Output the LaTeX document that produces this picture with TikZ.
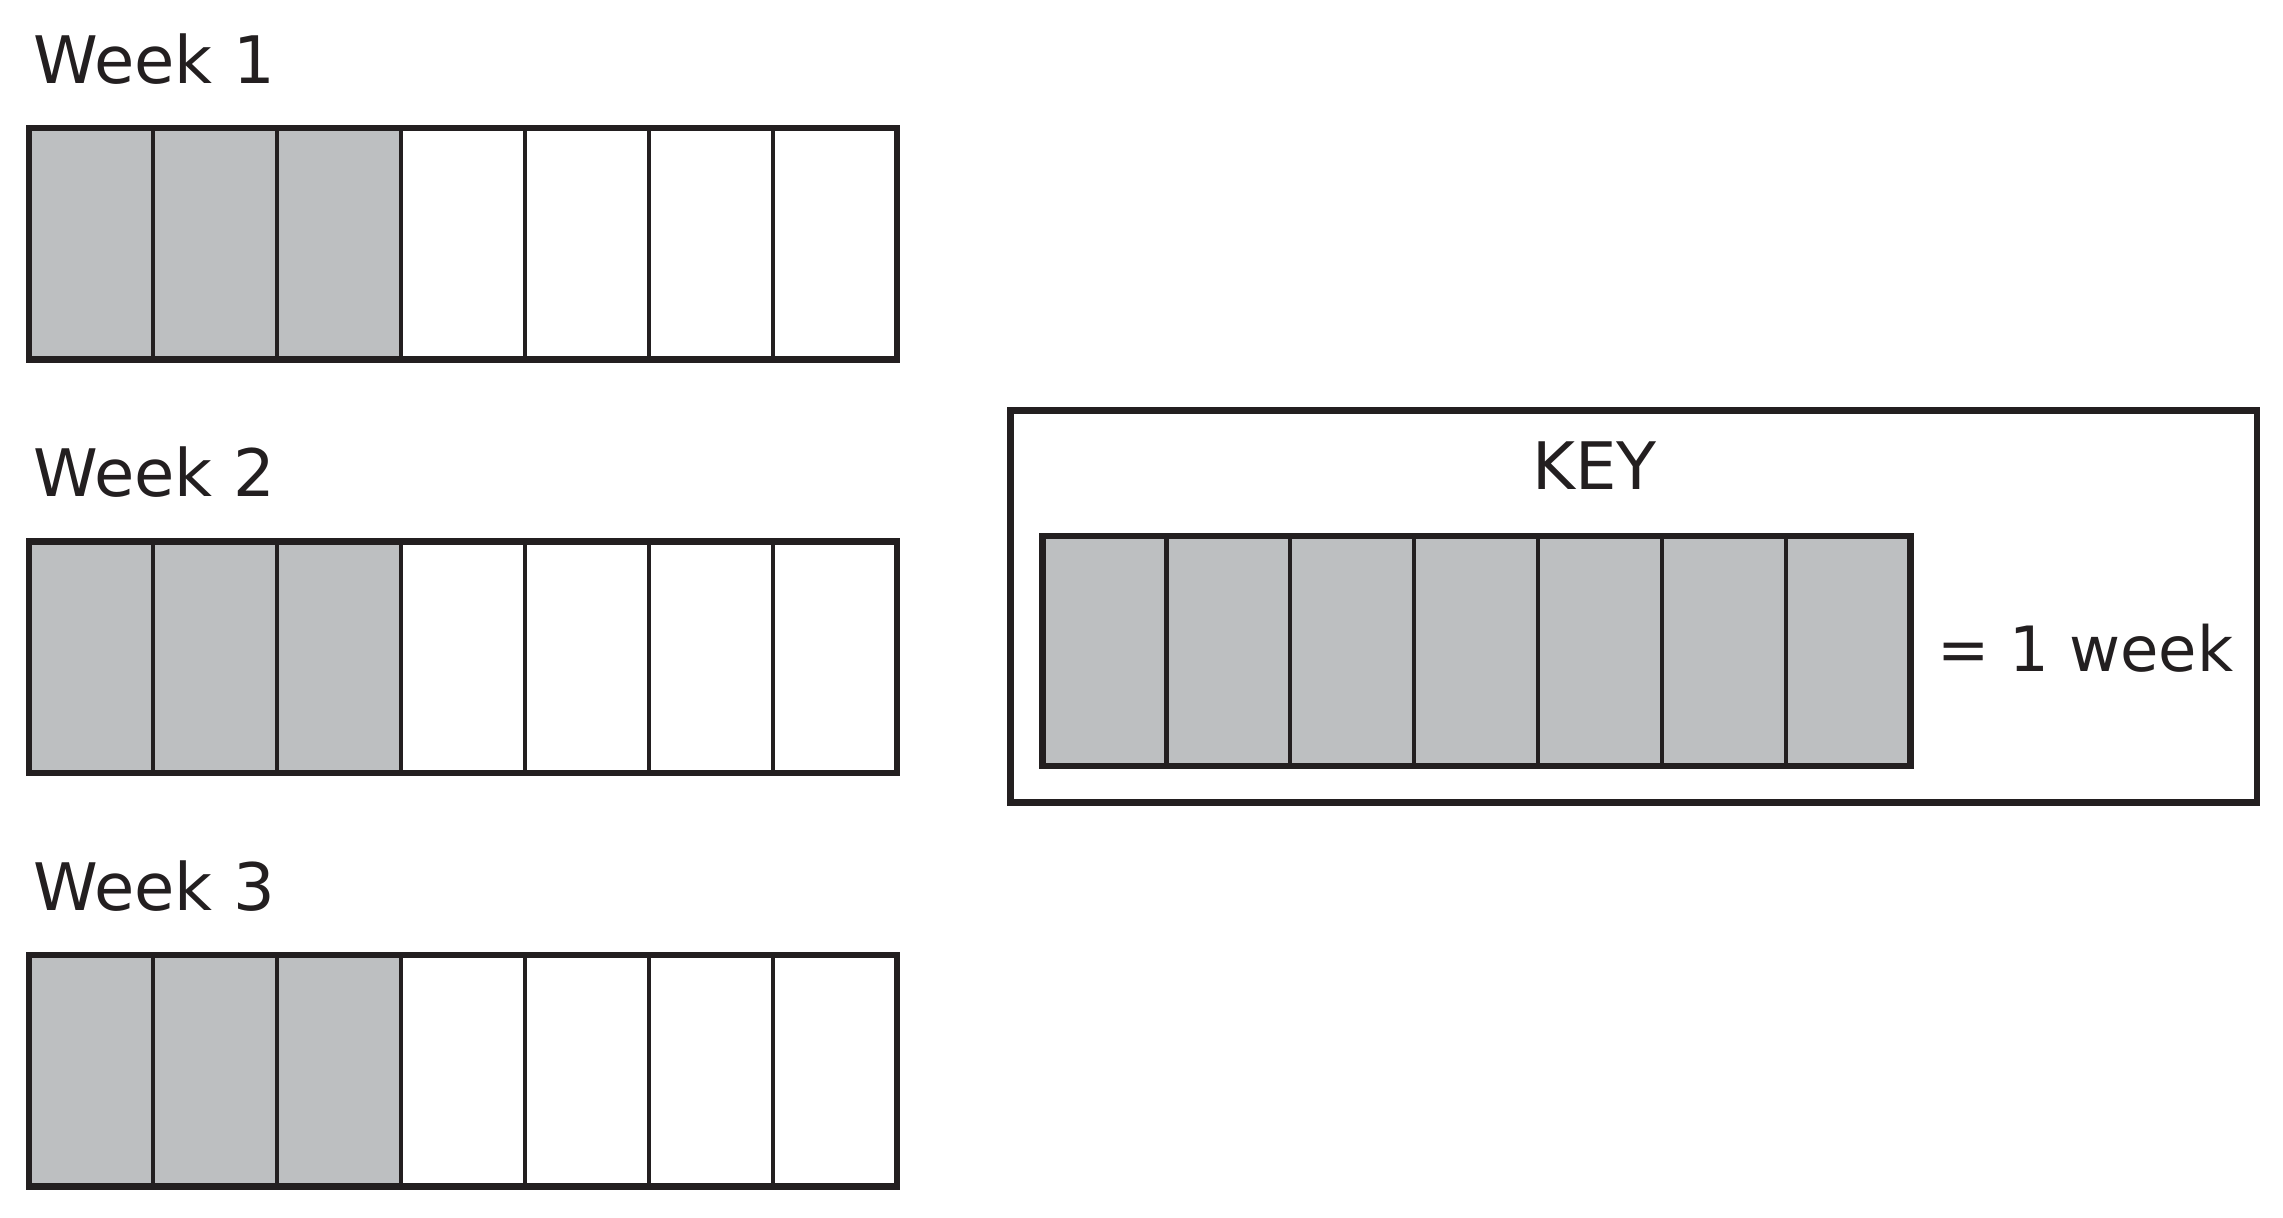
\documentclass[tikz,border=0pt]{standalone}
\usepackage{fontspec}
\setmainfont{DejaVu Sans}
\usetikzlibrary{positioning}
\definecolor{cellgray}{RGB}{189,191,193}
\definecolor{ink}{RGB}{35,31,32}
\tikzset{
  cell/.style={draw=ink,line width=0.8pt},
  frame/.style={draw=ink,line width=1.3pt},
  lbl/.style={font=\fontsize{12.8}{15}\selectfont,text=ink,inner sep=0pt}
}

\begin{document}
\begin{tikzpicture}
\useasboundingbox (0,0) rectangle (15.68,-8.36);

% week strips
\foreach \w/\t in {1/0.88,2/3.72,3/6.56}{
  \node[lbl,anchor=base west] (week\w) at (0.22,-\t+0.31) {Week \w};
  \foreach \i in {0,...,6}{
    \ifnum\i<3
      \fill[cellgray] (0.20+\i*0.8514,-\t) rectangle (0.20+\i*0.8514+0.8514,-\t-1.59);
    \fi
    \draw[cell] (0.20+\i*0.8514,-\t) rectangle (0.20+\i*0.8514+0.8514,-\t-1.59);
  }
  \draw[frame] (0.20,-\t) rectangle (6.16,-\t-1.59);
}

% key
\draw[frame] (6.94,-2.82) rectangle (15.50,-5.51);
\node[lbl,anchor=base] (key) at (10.95,-3.36) {KEY};
\foreach \i in {0,...,6}{
  \filldraw[cell,fill=cellgray] (7.16+\i*0.8514,-3.68) rectangle (7.16+\i*0.8514+0.8514,-5.26);
}
\draw[frame] (7.16,-3.68) rectangle (13.12,-5.26);
\node[lbl,anchor=base west,font=\fontsize{12.2}{15}\selectfont] (week) at (13.30,-4.61) {= 1 week};
\end{tikzpicture}
\end{document}
